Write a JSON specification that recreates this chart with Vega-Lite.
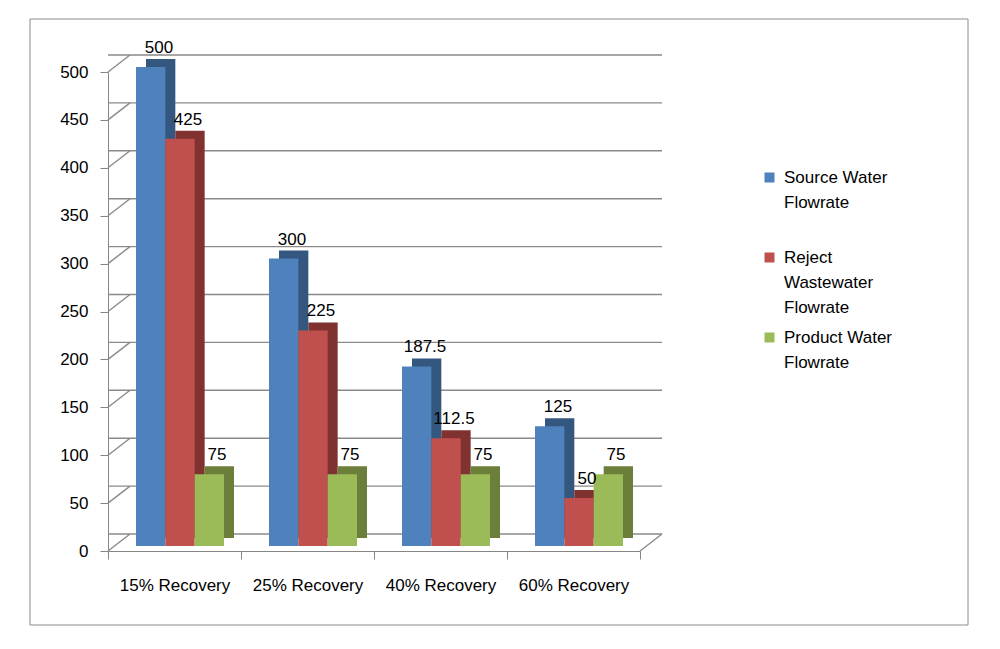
{
  "$schema": "https://vega.github.io/schema/vega-lite/v6.json",
  "width": 532,
  "height": 479,
  "autosize": {"type": "none"},
  "padding": {"left": 108, "top": 72, "right": 360, "bottom": 98},
  "background": "white",
  "config": {
    "view": {"stroke": null},
    "font": "Liberation Sans",
    "axis": {
      "domainColor": "#868686",
      "tickColor": "#868686",
      "tickSize": 8,
      "labelFont": "Liberation Sans",
      "labelFontSize": 17,
      "labelColor": "#000000",
      "grid": false,
      "title": null
    }
  },
  "datasets": {
    "flows": [
      {"recovery": "15% Recovery", "series": "Source Water Flowrate", "flow": 500},
      {"recovery": "15% Recovery", "series": "Reject Wastewater Flowrate", "flow": 425},
      {"recovery": "15% Recovery", "series": "Product Water Flowrate", "flow": 75},
      {"recovery": "25% Recovery", "series": "Source Water Flowrate", "flow": 300},
      {"recovery": "25% Recovery", "series": "Reject Wastewater Flowrate", "flow": 225},
      {"recovery": "25% Recovery", "series": "Product Water Flowrate", "flow": 75},
      {"recovery": "40% Recovery", "series": "Source Water Flowrate", "flow": 187.5},
      {"recovery": "40% Recovery", "series": "Reject Wastewater Flowrate", "flow": 112.5},
      {"recovery": "40% Recovery", "series": "Product Water Flowrate", "flow": 75},
      {"recovery": "60% Recovery", "series": "Source Water Flowrate", "flow": 125},
      {"recovery": "60% Recovery", "series": "Reject Wastewater Flowrate", "flow": 50},
      {"recovery": "60% Recovery", "series": "Product Water Flowrate", "flow": 75}
    ],
    "grid": [
      {"v": 0}, {"v": 50}, {"v": 100}, {"v": 150}, {"v": 200}, {"v": 250},
      {"v": 300}, {"v": 350}, {"v": 400}, {"v": 450}, {"v": 500}
    ]
  },
  "layer": [
    {
      "data": {"values": [{}]},
      "mark": {"type": "rect", "fill": "transparent", "stroke": "#8c8c8c", "strokeWidth": 1},
      "encoding": {
        "x": {"value": -78},
        "x2": {"value": 860},
        "y": {"value": -53},
        "y2": {"value": 553}
      }
    },
    {
      "data": {"name": "grid"},
      "mark": {"type": "rule", "color": "#8a8a8a", "strokeWidth": 1.4, "xOffset": 22, "x2Offset": 22, "yOffset": -17},
      "encoding": {
        "y": {
          "field": "v", "type": "quantitative", "title": null,
          "scale": {"domain": [0, 500]},
          "axis": {"values": [0, 50, 100, 150, 200, 250, 300, 350, 400, 450, 500], "labelPadding": 12}
        }
      }
    },
    {
      "data": {"name": "grid"},
      "mark": {"type": "rule", "color": "#8a8a8a", "strokeWidth": 1.4, "y2Offset": -17},
      "encoding": {
        "x": {"value": 0},
        "x2": {"value": 22},
        "y": {"field": "v", "type": "quantitative", "title": null},
        "y2": {"field": "v"}
      }
    },
    {
      "data": {"values": [{"v": 0}]},
      "mark": {"type": "rule", "color": "#8a8a8a", "strokeWidth": 1.4, "y2Offset": -17, "x2Offset": 22},
      "encoding": {
        "x": {"value": {"expr": "width"}},
        "x2": {"value": {"expr": "width"}},
        "y": {"field": "v", "type": "quantitative", "title": null},
        "y2": {"field": "v"}
      }
    },
    {
      "data": {"name": "flows"},
      "mark": {"type": "bar", "yOffset": -13, "y2Offset": -13},
      "encoding": {
        "x": {
          "field": "recovery", "type": "nominal", "sort": null, "title": null,
          "scale": {"paddingInner": 0, "paddingOuter": 0},
          "axis": {"tickBand": "extent", "labelPadding": 18, "labelAngle": 0}
        },
        "xOffset": {
          "field": "series", "type": "nominal", "sort": null,
          "scale": {"range": [38, 126], "paddingInner": 0, "paddingOuter": 0}
        },
        "y": {"field": "flow", "type": "quantitative", "stack": null, "title": null},
        "y2": {"datum": 0},
        "color": {
          "field": "series", "type": "nominal", "sort": null, "legend": null,
          "scale": {
            "domain": ["Source Water Flowrate", "Reject Wastewater Flowrate", "Product Water Flowrate"],
            "range": ["#34577f", "#7f3230", "#6b7f3a"]
          }
        }
      }
    },
    {
      "data": {"name": "flows"},
      "mark": {"type": "bar", "yOffset": -5, "y2Offset": -5},
      "encoding": {
        "x": {"field": "recovery", "type": "nominal", "sort": null, "title": null},
        "xOffset": {
          "field": "series", "type": "nominal", "sort": null,
          "scale": {"range": [28, 116], "paddingInner": 0, "paddingOuter": 0}
        },
        "y": {"field": "flow", "type": "quantitative", "stack": null, "title": null},
        "y2": {"datum": 0},
        "color": {
          "field": "series", "type": "nominal", "sort": null,
          "scale": {
            "domain": ["Source Water Flowrate", "Reject Wastewater Flowrate", "Product Water Flowrate"],
            "range": ["#4f81bd", "#c0504d", "#9bbb59"]
          },
          "legend": {
            "orient": "none",
            "legendX": 653,
            "legendY": 97,
            "title": null,
            "padding": 0,
            "symbolType": "square",
            "symbolSize": 100,
            "symbolStrokeWidth": 0,
            "labelFont": "Liberation Sans",
            "labelFontSize": 17,
            "labelColor": "#000000",
            "labelLimit": 0,
            "labelOffset": 6,
            "labelBaseline": "top",
            "gridAlign": "all",
            "rowPadding": 12,
            "labelExpr": "datum.label == 'Reject Wastewater Flowrate' ? ['Reject', 'Wastewater', 'Flowrate'] : [replace(datum.label, ' Flowrate', ''), 'Flowrate']",
            "encode": {
              "labels": {"update": {"lineHeight": {"value": 25}, "dy": {"value": -8}}}
            }
          }
        }
      }
    },
    {
      "data": {"name": "flows"},
      "mark": {"type": "text", "fontSize": 17, "font": "Liberation Sans", "color": "#000000", "baseline": "alphabetic", "dy": -19},
      "encoding": {
        "x": {"field": "recovery", "type": "nominal", "sort": null, "title": null},
        "xOffset": {
          "field": "series", "type": "nominal", "sort": null,
          "scale": {"range": [51, 109], "padding": 0}
        },
        "y": {"field": "flow", "type": "quantitative", "title": null},
        "text": {"field": "flow", "type": "nominal"}
      }
    }
  ],
  "resolve": {"scale": {"color": "independent", "xOffset": "independent"}}
}
